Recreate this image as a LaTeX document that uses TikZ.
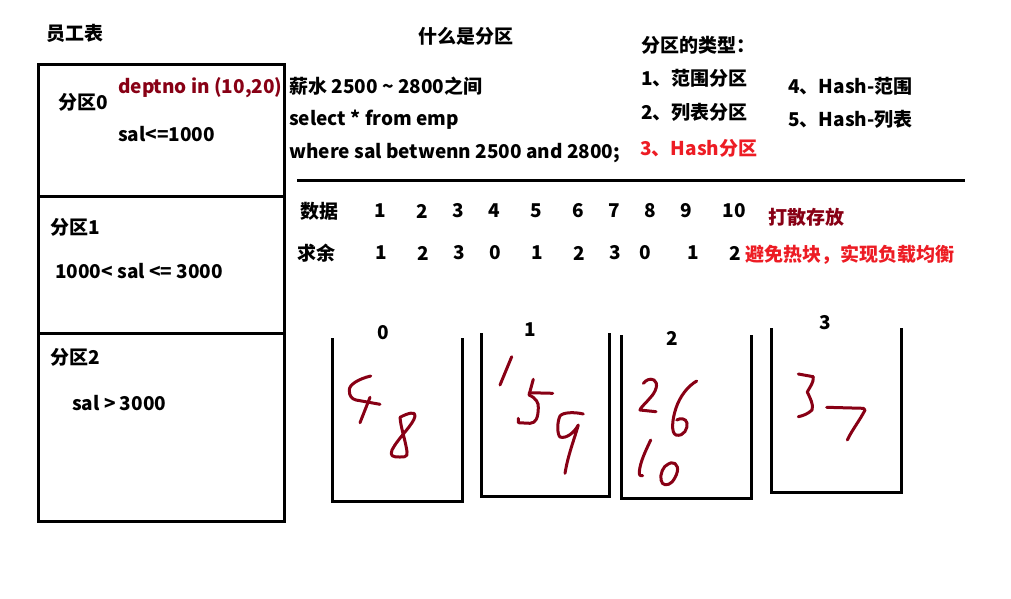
\documentclass[tikz,border=0pt]{standalone}
\usepackage{fontspec}
\setmainfont{Noto Sans CJK SC}
\definecolor{dred}{RGB}{136,0,21}
\definecolor{pred}{RGB}{237,28,36}
\begin{document}
\begin{tikzpicture}[x=1pt,y=-1pt,
  txt/.style={font=\bfseries\fontsize{19}{21}\selectfont, inner sep=0pt, anchor=west},
  num/.style={font=\bfseries\fontsize{19}{21}\selectfont, inner sep=0pt, anchor=center},
  frame/.style={draw=black, line width=3pt},
  hand/.style={draw=dred, line width=3pt, line cap=round, line join=round}]
\useasboundingbox[fill=white] (0,0) rectangle (1011,598);

% employee table
\node[txt] (title) at (46,33) {员工表};
\draw[frame] (38,64) rectangle (284,521);
\draw[frame] (38,196) -- (284,196);
\draw[frame] (38,333) -- (284,333);
\node[txt] (p0) at (58,102) {分区0};
\node[txt, text=dred] (dept) at (118,88) {deptno in (10,20)};
\node[txt] (s0) at (118,134) {sal<=1000};
\node[txt] (p1) at (50,227) {分区1};
\node[txt] (s1) at (55,271) {1000< sal <= 3000};
\node[txt] (p2) at (50,357) {分区2};
\node[txt] (s2) at (72,403) {sal > 3000};

% what is partition
\node[txt] (what) at (418,36) {什么是分区};
\node[txt] (q1) at (289,86) {薪水 2500 \textasciitilde{} 2800之间};
\node[txt] (q2) at (289,120) {select * from emp};
\node[txt] (q3) at (289,153) {where sal betwenn 2500 and 2800;};

% types
\node[txt] (types) at (641,45) {分区的类型：};
\node[txt] (t1) at (641,78) {1、范围分区};
\node[txt] (t2) at (641,112) {2、列表分区};
\node[txt, text=pred] (t3) at (640,148) {3、Hash分区};
\node[txt] (t4) at (788,86) {4、Hash-范围};
\node[txt] (t5) at (788,119) {5、Hash-列表};

\draw[frame] (297,180) -- (965,180);

% data row
\node[txt] (data) at (300,211) {数据};
\foreach \v/\x in {1/380,2/422,3/458,4/494,5/536,6/578,7/614,8/650,9/686,10/734}
  \node[num] (d\v) at (\x,211) {\v};
\node[txt, text=dred] (scatter) at (768,217) {打散存放};
\node[txt] (mod) at (297,253) {求余};
\foreach \v/\x [count=\i] in {1/381,2/423,3/459,0/495,1/537,2/579,3/615,0/645,1/693,2/735}
  \node[num] (r\i) at (\x,253) {\v};
\node[txt, text=pred] (avoid) at (745,255) {避免热块，实现负载均衡};

% buckets
\draw[frame] (332,338) -- (332,501) -- (462,501) -- (462,338);
\node[num] (b0) at (383,333) {0};
\draw[frame] (481,333) -- (481,496) -- (609,496) -- (609,333);
\node[num] (b1) at (530,330) {1};
\draw[frame] (621,335) -- (621,498) -- (751,498) -- (751,335);
\node[num] (b2) at (672,338) {2};
\draw[frame] (771,328) -- (771,492) -- (901,492) -- (901,328);
\node[num] (b3) at (825,323) {3};

% handwritten digits: bucket 0
\draw[hand] (370.7,376) .. controls (358,379) and (349,385) .. (349.3,390) .. controls (349,396) and (352,399) .. (356,400) -- (380,404.3);
\draw[hand] (370,397.3) -- (360,422.7);
\draw[hand] (400,417.3) .. controls (408,413) and (416,411) .. (415,416) .. controls (414,424) and (398,438) .. (392,450) .. controls (390,456) and (392,457) .. (400,457) .. controls (408,457) and (408,456) .. (406,446) .. controls (404,436) and (401,428) .. (400,417.3);
% bucket 1
\draw[hand] (511.7,356.7) -- (500,385);
\draw[hand] (533.3,379.3) -- (529,395) .. controls (536,398) and (539,403) .. (538.3,408) .. controls (538,418) and (536,423) .. (530,423.3) -- (518.3,422.7) -- (518.3,418.3);
\draw[hand] (529.3,392.7) -- (552.7,393.3);
\draw[hand] (583.3,414) .. controls (575,412) and (563,412) .. (560,416) .. controls (557,422) and (557,434) .. (560,437) .. controls (566,439) and (574,433) .. (578.3,425) .. controls (574,440) and (568,455) .. (565,473.3);
% bucket 2
\draw[hand] (643.3,383.3) .. controls (646,380) and (650,378) .. (654,380) .. controls (659,383) and (656,392) .. (650,398) .. controls (645,404) and (640,408) .. (640,410) -- (656,411.7);
\draw[hand] (696.7,381) .. controls (688,386) and (680,396) .. (676,408) .. controls (672,420) and (671,433) .. (676,435) .. controls (684,437) and (688,428) .. (687,423) .. controls (686,418) and (680,418) .. (676.7,420);
\draw[hand] (650.7,440) .. controls (646,450) and (640,462) .. (639.3,472) .. controls (639,476) and (641,476) .. (642.7,475.7);
\draw[hand] (668.3,464) .. controls (663,466) and (660,474) .. (661,480) .. controls (662,486) and (668,486) .. (672,482) .. controls (677,476) and (680,467) .. (675,463.5) .. controls (672,462) and (670,463) .. (668.3,464);
% bucket 3
\draw[hand] (798.3,374) -- (813.3,376.7) .. controls (814,383) and (809,388) .. (807.3,392) .. controls (810,398) and (814,405) .. (812,410) .. controls (808,414) and (802,416) .. (798.3,416.7);
\draw[hand] (826.7,407.3) -- (863.3,408.3) -- (865,410) .. controls (860,420) and (852,430) .. (847.3,440);
\end{tikzpicture}
\end{document}
